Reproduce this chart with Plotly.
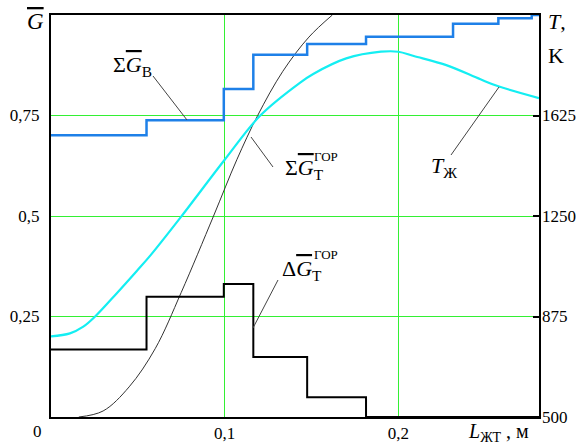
import plotly.graph_objects as go

# ---- data ----
x_steps = [0, 0.055, 0.0995, 0.1165, 0.1475, 0.1814, 0.2315, 0.2576, 0.2768, 0.281]
sum_gv = [0.701, 0.738, 0.816, 0.901, 0.928, 0.946, 0.978, 0.992, 1.0, 1.0]
delta_gt = [0.168, 0.299, 0.331, 0.149, 0.049, 0.0, 0.0, 0.0, 0.0, 0.0]

x_sum_gt = [0.016, 0.03, 0.045, 0.06, 0.075, 0.0936, 0.107, 0.119, 0.1335, 0.1485, 0.162]
sum_gt = [0.0, 0.015, 0.075, 0.17, 0.31, 0.5, 0.64, 0.75, 0.86, 0.945, 1.0]

x_t = [0, 0.0109, 0.0186, 0.0254, 0.0379, 0.0494, 0.0575, 0.0744, 0.1, 0.1205, 0.1435, 0.151,
       0.170, 0.19, 0.2, 0.2089, 0.228, 0.2473, 0.258, 0.281]
t_liq = [801, 812, 837, 875, 962, 1045, 1105, 1243, 1460, 1625, 1748, 1780,
         1838, 1863, 1863, 1847, 1812, 1760, 1733, 1690]

x_ticks = [0.1, 0.2]
x_ticktext = ["0,1", "0,2"]
y_ticks = [0.25, 0.5, 0.75]
y_ticktext = ["0,25", "0,5", "0,75"]
y2_ticks = [500, 875, 1250, 1625]
y2_ticktext = ["500", "875", "1250", "1625"]

FONT = "Liberation Serif, Times New Roman, Tinos, DejaVu Serif, serif"
W, H = 579, 445
ML, MR, MT, MB = 51, 40, 15, 28
PW, PH = W - ML - MR, H - MT - MB


def P(px, py):
    return (px - ML) / PW, (H - MB - py) / PH


fig = go.Figure()
fig.add_trace(go.Scatter(x=x_t, y=t_liq, mode="lines", yaxis="y2",
                         line=dict(color="#14eef2", width=2.2, shape="spline", smoothing=1.0),
                         hoverinfo="skip", showlegend=False))
fig.add_trace(go.Scatter(x=x_sum_gt, y=sum_gt, mode="lines",
                         line=dict(color="#333333", width=1, shape="spline", smoothing=1.0),
                         hoverinfo="skip", showlegend=False))
fig.add_trace(go.Scatter(x=x_steps, y=delta_gt, mode="lines",
                         line=dict(color="black", width=2, shape="hv"),
                         hoverinfo="skip", showlegend=False))
fig.add_trace(go.Scatter(x=x_steps, y=sum_gv, mode="lines",
                         line=dict(color="#1e80e8", width=2.5, shape="hv"),
                         hoverinfo="skip", showlegend=False))

OL = '<span style="text-decoration:overline">'
anns = []


def txt(px, py, text, size, xanchor="left", yanchor="middle"):
    x, y = P(px, py)
    anns.append(dict(x=x, y=y, xref="paper", yref="paper", text=text, showarrow=False,
                     xanchor=xanchor, yanchor=yanchor,
                     font=dict(family=FONT, size=size, color="black")))


txt(35, 22, OL + "<i>G</i></span>", 23, xanchor="center")
txt(546, 21, "<i>T</i>,", 22)
txt(546, 55, "K", 22)
txt(37, 431, "0", 17, xanchor="center")
txt(466, 432, "<i>L</i><sub>ЖТ</sub> , м", 20)

txt(111, 66, "Σ" + OL + "<i>G</i></span><sub>В</sub>", 22)
txt(283, 169, "Σ" + OL + "<i>G</i></span><sub>Т</sub>", 22)
txt(312, 157, "ГОР", 13)
txt(280, 270, "Δ" + OL + "<i>G</i></span><sub>Т</sub>", 22)
txt(312, 254, "ГОР", 13)
txt(429, 167, "<i>T</i><sub>Ж</sub>", 22)

shapes = []
for (a, b) in [((153, 76), (187, 120)), ((273, 167), (251, 137)),
               ((278, 280), (253, 328)), ((451, 155), (499, 87))]:
    x0, y0 = P(*a)
    x1, y1 = P(*b)
    shapes.append(dict(type="line", xref="paper", yref="paper", x0=x0, y0=y0, x1=x1, y1=y1,
                       line=dict(color="#444444", width=1)))

fig.update_layout(
    width=W, height=H,
    margin=dict(l=ML, r=MR, t=MT, b=MB, pad=0, autoexpand=False),
    paper_bgcolor="white", plot_bgcolor="white",
    font=dict(family=FONT, size=17, color="black"),
    xaxis=dict(range=[0, 0.281], tickvals=x_ticks, ticktext=x_ticktext, automargin=False,
               showgrid=True, gridcolor="#33f033", gridwidth=1, zeroline=False,
               showline=True, linecolor="black", linewidth=2, mirror=True,
               ticks="", ticklabelstandoff=0, tickfont=dict(family=FONT, size=17, color="black")),
    yaxis=dict(range=[0, 1.0], tickvals=y_ticks, ticktext=y_ticktext, automargin=False,
               showgrid=True, gridcolor="#33f033", gridwidth=1, zeroline=False,
               showline=True, linecolor="black", linewidth=2, mirror=True,
               ticks="", ticklabelstandoff=6, tickfont=dict(family=FONT, size=17, color="black")),
    yaxis2=dict(range=[500, 2000], overlaying="y", side="right", automargin=False,
                tickvals=y2_ticks, ticktext=y2_ticktext, showgrid=False, zeroline=False,
                showline=False, ticks="inside", ticklen=6, tickwidth=2, tickcolor="black",
                ticklabelstandoff=2, tickfont=dict(family=FONT, size=17, color="black")),
    annotations=anns, shapes=shapes,
)

fig.write_html("out.html", post_script="document.body.style.margin='0';",
               config={"displayModeBar": False})
